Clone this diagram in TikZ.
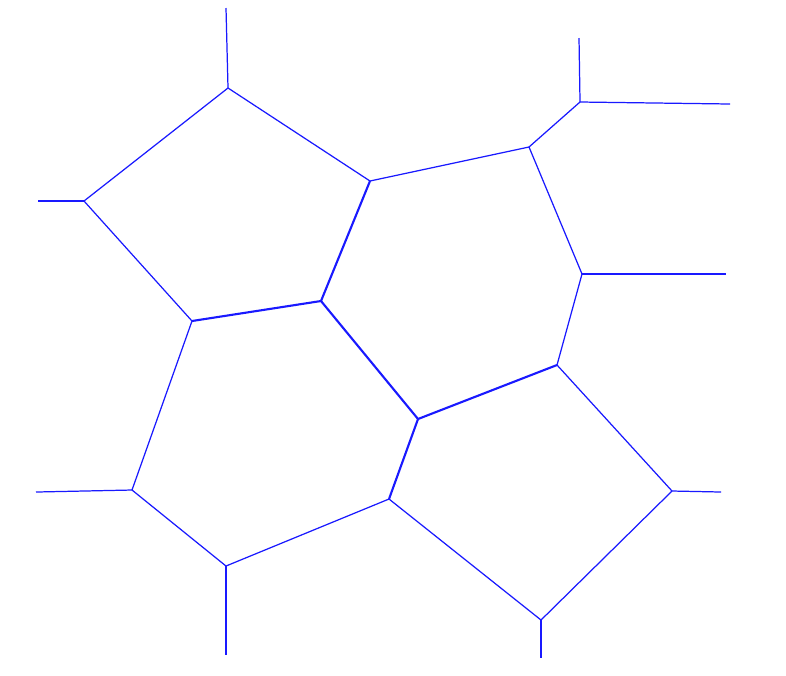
\documentclass[tikz,border=0pt]{standalone}
\usepackage{tikz}
\definecolor{edgeblue}{rgb}{0.1,0.1,1}

\begin{document}
\begin{tikzpicture}[
      x=0.01cm, y=-0.01cm,
      edge/.style={draw=edgeblue, line width=0.35pt},
      inner/.style={edge, line width=0.6pt}
    ]
    \useasboundingbox (0,0) rectangle (786,675);

    % vertices
    \coordinate (a) at (228,88);
    \coordinate (b) at (84,201);
    \coordinate (c) at (192,321);
    \coordinate (d) at (321,301);
    \coordinate (e) at (370,181);
    \coordinate (f) at (529,147);
    \coordinate (g) at (580,102);
    \coordinate (h) at (582,274);
    \coordinate (i) at (557,365);
    \coordinate (j) at (418,419);
    \coordinate (k) at (389,499);
    \coordinate (l) at (226,566);
    \coordinate (m) at (132,490);
    \coordinate (n) at (672,491);
    \coordinate (o) at (541,620);

    % open ends
    \coordinate (aout) at (226,8);
    \coordinate (bout) at (38,201);
    \coordinate (gup)  at (579,38);
    \coordinate (gout) at (730,104);
    \coordinate (hout) at (726,274);
    \coordinate (nout) at (721,492);
    \coordinate (oout) at (541,658);
    \coordinate (lout) at (226,655);
    \coordinate (mout) at (36,492);

    % outer edges
    \draw[edge] (a) -- (b);
    \draw[edge] (a) -- (e);
    \draw[edge] (b) -- (c);
    \draw[edge] (e) -- (f);
    \draw[edge] (f) -- (g);
    \draw[edge] (f) -- (h);
    \draw[edge] (h) -- (i);
    \draw[edge] (c) -- (m);
    \draw[edge] (m) -- (l);
    \draw[edge] (l) -- (k);
    \draw[edge] (k) -- (o);
    \draw[edge] (o) -- (n);
    \draw[edge] (n) -- (i);

    % inner edges
    \draw[inner] (c) -- (d);
    \draw[inner] (d) -- (e);
    \draw[inner] (d) -- (j);
    \draw[inner] (j) -- (i);
    \draw[inner] (j) -- (k);

    % rays
    \draw[edge] (a) -- (aout);
    \draw[edge] (b) -- (bout);
    \draw[edge] (g) -- (gup);
    \draw[edge] (g) -- (gout);
    \draw[edge] (h) -- (hout);
    \draw[edge] (n) -- (nout);
    \draw[edge] (o) -- (oout);
    \draw[edge] (l) -- (lout);
    \draw[edge] (m) -- (mout);
  \end{tikzpicture}
\end{document}
